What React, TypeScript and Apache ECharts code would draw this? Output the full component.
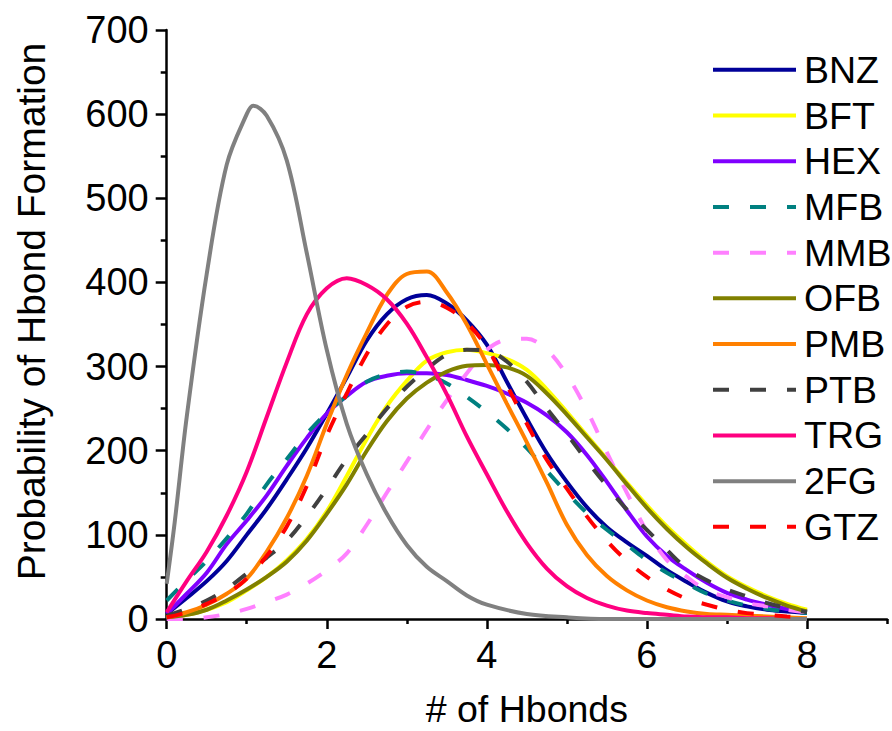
import React, { useEffect, useRef } from "react";
import * as echarts from "echarts";

// Shared x sampling (# of Hbonds) for most curves
const X_GRID = [0, 0.25, 0.5, 0.75, 1, 1.25, 1.5, 1.75, 2, 2.25, 2.5, 2.75, 3, 3.25, 3.5, 3.75, 4, 4.25, 4.5, 4.75, 5, 5.25, 5.5, 5.75, 6, 6.25, 6.5, 6.75, 7, 7.25, 7.5, 7.75, 8];

const BNZ = [6, 25, 45, 69, 100, 131, 166, 203, 244, 287, 331, 362, 380, 385, 375, 355, 326, 282, 238, 197, 163, 133, 109, 91, 75, 58, 44, 31, 21, 15, 11, 9, 7];
const BFT = [2, 5, 11, 20, 34, 50, 70, 95, 128, 170, 214, 253, 283, 307, 317, 320, 316, 309, 296, 273, 246, 218, 190, 162, 135, 110, 88, 68, 51, 38, 27, 18, 11];
const HEX = [6, 30, 55, 89, 117, 147, 182, 215, 244, 265, 282, 289, 292, 292, 290, 284, 277, 268, 257, 242, 222, 195, 163, 129, 98, 75, 58, 43, 31, 23, 17, 12, 9];
const MFB = [22, 46, 69, 96, 125, 160, 190, 220, 245, 265, 282, 291, 294, 290, 280, 264, 246, 226, 203, 176, 150, 126, 106, 88, 70, 55, 42, 30, 22, 16, 12, 9, 7];
const MMB = [0, 0, 2, 6, 12, 20, 29, 42, 58, 78, 112, 150, 187, 225, 260, 292, 320, 332, 333, 320, 290, 248, 198, 150, 104, 70, 50, 34, 26, 19, 15, 11, 8];
const OFB = [2, 5, 11, 22, 35, 50, 68, 93, 125, 160, 200, 235, 262, 281, 294, 301, 302, 299, 289, 268, 243, 216, 189, 160, 132, 107, 85, 66, 49, 36, 25, 16, 9];
const PMB = [2, 8, 17, 30, 48, 80, 120, 170, 232, 290, 340, 385, 410, 413, 388, 350, 303, 256, 210, 162, 112, 76, 51, 34, 22, 14, 9, 6, 5, 4, 3, 2, 1];
const PTB = [4, 12, 22, 36, 54, 73, 93, 122, 155, 190, 220, 250, 276, 297, 314, 320, 319, 306, 282, 250, 220, 188, 158, 130, 106, 82, 60, 46, 35, 27, 19, 13, 8];
const TRG = [8, 45, 80, 123, 175, 240, 305, 362, 393, 405, 397, 380, 351, 311, 267, 217, 172, 128, 90, 60, 39, 25, 16, 10, 7, 5, 3, 2, 2, 1, 1, 0, 0];
const GTZ = [2, 8, 18, 30, 48, 75, 110, 158, 218, 268, 315, 350, 371, 377, 370, 352, 323, 278, 232, 189, 155, 122, 93, 69, 50, 35, 24, 17, 11, 7, 5, 3, 2];

// 2FG sampled more finely near its sharp peak
const X_2FG = [0, 0.1, 0.25, 0.5, 0.75, 1, 1.08, 1.25, 1.5, 1.75, 2, 2.25, 2.5, 2.75, 3, 3.25, 3.5, 3.75, 4, 4.5, 5, 5.5, 6, 7, 8];
const FG2 = [42, 115, 240, 410, 540, 600, 610, 598, 545, 435, 320, 232, 172, 125, 88, 62, 45, 28, 17, 6, 2, 0, 0, 0, 0];

const X_MAJOR_TICKS = [0, 2, 4, 6, 8];
const X_MINOR_TICKS = [1, 3, 5, 7, 9];

const FONT = "'Liberation Sans', Arial, Helvetica, sans-serif";
const DASH = [16, 21];

type Def = { name: string; xs: number[]; ys: number[]; color: string; dashed: boolean };

const DEFS: Def[] = [
  { name: "BNZ", xs: X_GRID, ys: BNZ, color: "#000099", dashed: false },
  { name: "BFT", xs: X_GRID, ys: BFT, color: "#FFFF00", dashed: false },
  { name: "HEX", xs: X_GRID, ys: HEX, color: "#8000FF", dashed: false },
  { name: "MFB", xs: X_GRID, ys: MFB, color: "#008080", dashed: true },
  { name: "MMB", xs: X_GRID, ys: MMB, color: "#FF80FF", dashed: true },
  { name: "OFB", xs: X_GRID, ys: OFB, color: "#808000", dashed: false },
  { name: "PMB", xs: X_GRID, ys: PMB, color: "#FF8000", dashed: false },
  { name: "PTB", xs: X_GRID, ys: PTB, color: "#404040", dashed: true },
  { name: "TRG", xs: X_GRID, ys: TRG, color: "#FF0080", dashed: false },
  { name: "2FG", xs: X_2FG, ys: FG2, color: "#808080", dashed: false },
  { name: "GTZ", xs: X_GRID, ys: GTZ, color: "#FF0000", dashed: true },
];

export default function App() {
  const ref = useRef<HTMLDivElement>(null);

  useEffect(() => {
    if (!ref.current) return;
    const chart = echarts.init(ref.current, null, { renderer: "svg" });
    const axisLine = { show: true, lineStyle: { color: "#000", width: 2.5 } };
    const option: any = {
      animation: false,
      backgroundColor: "#fff",
      textStyle: { fontFamily: FONT },
      grid: { left: 166.7, right: 5, top: 30, bottom: 112, containLabel: false, outerBoundsMode: "none" },
      legend: {
        orient: "vertical",
        left: 711,
        top: 47,
        padding: 0,
        itemGap: 0,
        itemWidth: 83,
        itemHeight: 14,
        data: DEFS.map((d) => d.name),
        itemStyle: { opacity: 0 },
        lineStyle: { width: 4 },
        textStyle: { fontSize: 37.5, color: "#000", fontFamily: FONT, lineHeight: 45.7, padding: [0, 0, 0, 3] },
      },
      xAxis: [
        {
          type: "value",
          min: 0,
          max: 9,
          position: "bottom",
          name: "# of Hbonds",
          nameLocation: "middle",
          nameGap: 76,
          nameTextStyle: { fontSize: 37.5, lineHeight: 28, color: "#000", fontFamily: FONT },
          axisLine,
          axisTick: { show: true, inside: false, length: 10, customValues: X_MAJOR_TICKS, lineStyle: { color: "#000", width: 2.5 } },
          axisLabel: { show: true, customValues: X_MAJOR_TICKS, margin: 17, fontSize: 38, color: "#000", fontFamily: FONT },
          splitLine: { show: false },
        },
        {
          type: "value",
          min: 0,
          max: 9,
          position: "bottom",
          axisLine: { show: false },
          axisTick: { show: true, inside: false, length: 5, customValues: X_MINOR_TICKS, lineStyle: { color: "#000", width: 2.5 } },
          axisLabel: { show: false },
          splitLine: { show: false },
        },
      ],
      yAxis: {
        type: "value",
        min: 0,
        max: 700,
        interval: 100,
        name: "Probability of Hbond Formation",
        nameLocation: "middle",
        nameGap: 116,
        nameTextStyle: { fontSize: 39, color: "#000", fontFamily: FONT, padding: [0, 0, 0, 26] },
        axisLine,
        axisTick: { show: true, inside: false, length: 11, lineStyle: { color: "#000", width: 2.5 } },
        minorTick: { show: true, splitNumber: 2, length: 6, lineStyle: { color: "#000", width: 2.5 } },
        axisLabel: { margin: 18, fontSize: 38, color: "#000", fontFamily: FONT },
        splitLine: { show: false },
        minorSplitLine: { show: false },
      },
      series: DEFS.map((d) => ({
        name: d.name,
        type: "line",
        xAxisIndex: 0,
        data: d.xs.map((x, i) => [x, d.ys[i]]),
        symbol: "none",
        showSymbol: false,
        smooth: 0.35,
        color: d.color,
        itemStyle: { color: d.color },
        lineStyle: { color: d.color, width: 4, type: d.dashed ? DASH : "solid" },
        emphasis: { disabled: true },
      })),
    };
    chart.setOption(option);
    return () => chart.dispose();
  }, []);

  return (
    <div
      ref={ref}
      style={{ position: "fixed", left: 0, top: 0, width: 892, height: 731, background: "#fff" }}
    />
  );
}
